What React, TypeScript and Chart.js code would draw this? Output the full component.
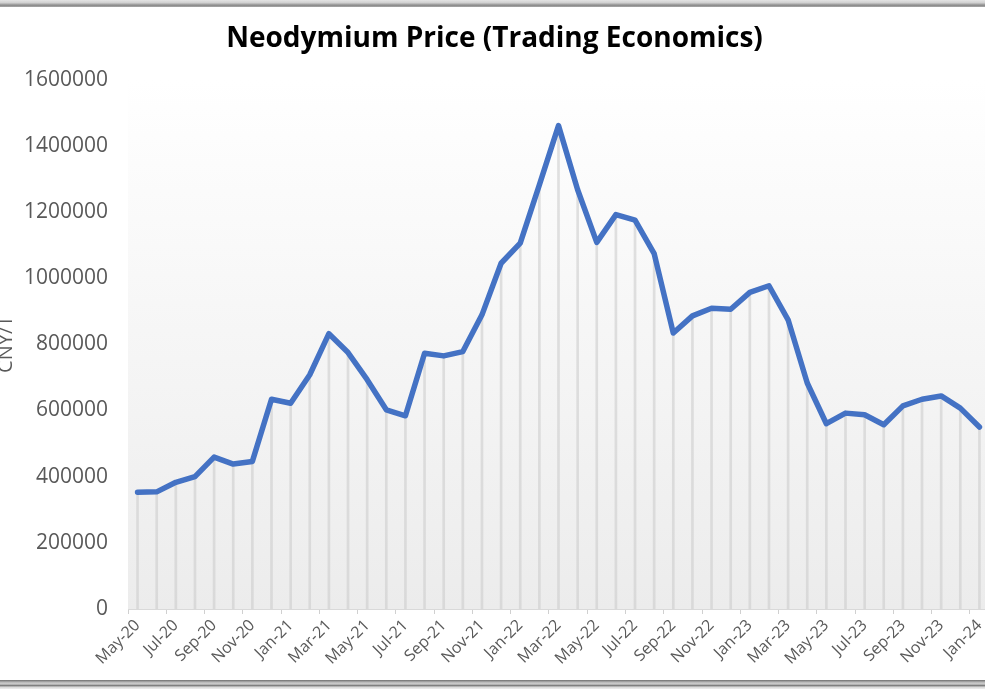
import React, { useEffect, useRef } from 'react';
import { Chart, registerables } from 'chart.js';

Chart.register(...registerables);

const months: string[] = [
  'May-20', 'Jun-20', 'Jul-20', 'Aug-20', 'Sep-20', 'Oct-20', 'Nov-20', 'Dec-20',
  'Jan-21', 'Feb-21', 'Mar-21', 'Apr-21', 'May-21', 'Jun-21', 'Jul-21', 'Aug-21',
  'Sep-21', 'Oct-21', 'Nov-21', 'Dec-21', 'Jan-22', 'Feb-22', 'Mar-22', 'Apr-22',
  'May-22', 'Jun-22', 'Jul-22', 'Aug-22', 'Sep-22', 'Oct-22', 'Nov-22', 'Dec-22',
  'Jan-23', 'Feb-23', 'Mar-23', 'Apr-23', 'May-23', 'Jun-23', 'Jul-23', 'Aug-23',
  'Sep-23', 'Oct-23', 'Nov-23', 'Dec-23', 'Jan-24',
];

const prices: number[] = [
  353000, 354000, 383000, 400000, 459000, 438000, 446000, 634000,
  622000, 708000, 832000, 775000, 693000, 602000, 584000, 773000,
  765000, 778000, 889000, 1045000, 1106000, 1282000, 1461000, 1267000,
  1108000, 1192000, 1175000, 1074000, 834000, 886000, 909000, 906000,
  957000, 977000, 874000, 683000, 560000, 592000, 587000, 557000,
  614000, 634000, 644000, 607000, 550000,
];

const yTicks: number[] = [0, 200000, 400000, 600000, 800000, 1000000, 1200000, 1400000, 1600000];

const titleText = 'Neodymium Price (Trading Economics)';
const yTitle = 'CNY/T';

export default function App() {
  const ref = useRef<HTMLCanvasElement | null>(null);

  useEffect(() => {
    if (!ref.current) return;
    const plotBg = {
      id: 'plotBg',
      beforeDraw(chart: any) {
        const { ctx, chartArea: a } = chart;
        const g = ctx.createLinearGradient(0, a.top, 0, a.bottom);
        g.addColorStop(0, '#ffffff');
        g.addColorStop(1, '#ececec');
        ctx.save();
        ctx.fillStyle = g;
        ctx.fillRect(a.left, a.top, a.right - a.left, a.bottom - a.top);
        ctx.restore();
      },
    };

    const chart = new Chart(ref.current, {
      type: 'line',
      data: {
        labels: months,
        datasets: [
          {
            type: 'line',
            data: prices,
            borderColor: '#4472C4',
            borderWidth: 5.5,
            pointRadius: 0,
            tension: 0,
            borderJoinStyle: 'round',
            borderCapStyle: 'round',
            order: 0,
          } as any,
          {
            type: 'bar',
            data: prices,
            backgroundColor: 'rgba(205,205,205,0.6)',
            barThickness: 2,
            order: 1,
          } as any,
        ],
      },
      options: {
        animation: false,
        responsive: false,
        devicePixelRatio: 1,
        layout: { padding: { left: 0, right: 11, top: 0, bottom: 0 } },
        plugins: {
          legend: { display: false },
          tooltip: { enabled: false },
          title: {
            display: true,
            text: titleText,
            color: '#000000',
            font: { family: 'Open Sans', size: 28, weight: 'bold' },
            padding: { top: 22, bottom: 24 },
          },
        },
        scales: {
          x: {
            offset: true,
            grid: {
              offset: true,
              drawOnChartArea: false,
              drawTicks: true,
              tickLength: 5,
              color: (c: any) => (c.index % 2 === 0 ? '#d0d0d0' : 'rgba(0,0,0,0)'),
            },
            border: { display: true, color: '#d9d9d9', width: 1 },
            ticks: {
              autoSkip: false,
              maxRotation: 45,
              minRotation: 45,
              padding: 2,
              color: '#595959',
              font: { family: 'Open Sans', size: 16 },
              callback: (_v: any, i: number) => (i % 2 === 0 ? months[i] : ''),
            },
            afterFit: (s: any) => {
              s.height = 80;
            },
          },
          y: {
            min: 0,
            max: 1600000,
            grid: { display: false, drawTicks: false },
            border: { display: false },
            afterBuildTicks: (s: any) => {
              s.ticks = yTicks.map((v) => ({ value: v }));
            },
            ticks: {
              padding: 20,
              color: '#595959',
              font: { family: 'Open Sans', size: 21 },
              callback: (v: any) => String(v),
            },
            title: {
              display: true,
              text: yTitle,
              color: '#595959',
              font: { family: 'Open Sans', size: 20 },
              padding: { top: -6, bottom: 0 },
            },
            afterFit: (s: any) => {
              s.width = 128;
            },
          },
        },
      },
      plugins: [plotBg],
    });
    return () => chart.destroy();
  }, []);

  return (
    <div style={{ position: 'fixed', left: 0, top: 0, width: 985, height: 689, overflow: 'hidden', background: '#ffffff' }}>
      <canvas ref={ref} width={1000} height={689} style={{ position: 'absolute', left: 0, top: 0, width: 1000, height: 689 }} />
      <div style={{ position: 'absolute', left: 0, top: 0, width: 985, height: 7, background: 'linear-gradient(#e4e4e4 0%, #d0d0d0 40%, #8a8a8a 75%, #a8a8a8 100%)' }} />
      <div style={{ position: 'absolute', left: 0, top: 680, width: 985, height: 9, background: 'linear-gradient(#6e6e6e 0%, #b8b8b8 25%, #cfcfcf 45%, #7a7a7a 60%, #d8d8d8 80%, #eeeeee 100%)' }} />
    </div>
  );
}
